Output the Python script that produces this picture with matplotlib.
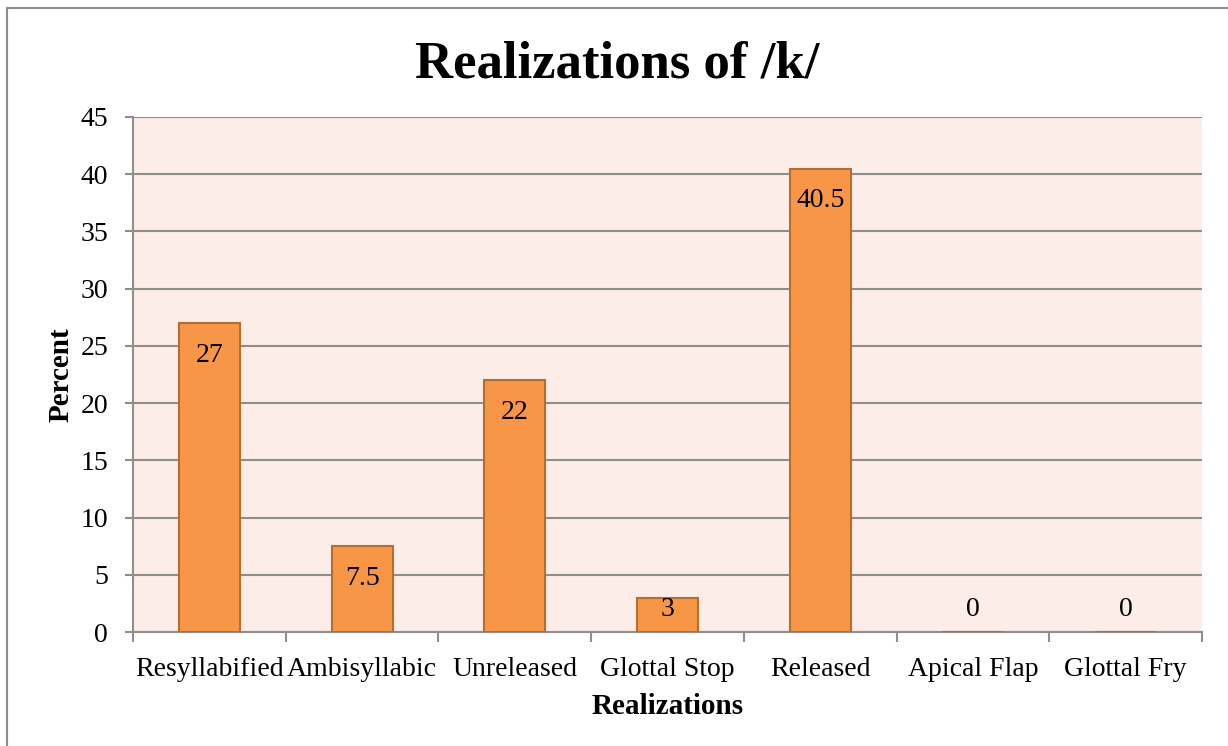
import numpy as np
import matplotlib.pyplot as plt
from matplotlib.patches import Rectangle

categories = ['Resyllabified', 'Ambisyllabic', 'Unreleased', 'Glottal Stop', 'Released', 'Apical Flap', 'Glottal Fry']
percent = [27, 7.5, 22, 3, 40.5, 0, 0]
value_labels = ['27', '7.5', '22', '3', '40.5', '0', '0']

plt.rcParams['font.family'] = ['Liberation Serif', 'DejaVu Serif']

fig = plt.figure(figsize=(12.28, 7.46), dpi=100)
ax = fig.add_axes([133/1228, 1 - 632/746, (1202-133)/1228, (632-117)/746])

# outer chart border
fig.patches.append(Rectangle((7/1228, -0.5), 2, 0.5 + 1 - 8/746, transform=fig.transFigure,
                             fill=False, edgecolor='#8c8c8c', linewidth=1.5))

grid_col = '#8e8e8e'
ax.set_facecolor('#fcede8')
x = np.arange(len(categories))
ax.bar(x, percent, width=0.4, color='#f79646', edgecolor='#b66d31', linewidth=1.5, zorder=3)

# data labels, inside end (or just above baseline for short bars)
for xi, v, lab in zip(x, percent, value_labels):
    ax.text(xi, max(v - 2.8, 2.0), lab, ha='center', va='center', fontsize=20, zorder=4)

ax.set_xlim(-0.5, len(categories) - 0.5)
ax.set_ylim(0, 45)
ax.set_yticks(np.arange(0, 46, 5))
ax.yaxis.grid(True, color=grid_col, linewidth=1.5, zorder=1)
ax.set_axisbelow(True)

ax.set_xticks(x)
ax.set_xticklabels(categories, fontsize=20)
ax.set_xticks(np.arange(-0.5, len(categories), 1), minor=True)
ax.tick_params(axis='x', which='major', length=0, pad=18)
ax.tick_params(axis='x', which='minor', length=7, width=1.5, color=grid_col, direction='out')
ax.tick_params(axis='y', length=6, width=1.5, color=grid_col, labelsize=20, pad=12)

for s in ['top', 'right']:
    ax.spines[s].set_visible(False)
for s in ['left', 'bottom']:
    ax.spines[s].set_color(grid_col)
    ax.spines[s].set_linewidth(1.5)

ax.set_xlabel('Realizations', fontsize=21, fontweight='bold', labelpad=8)
ax.set_ylabel('Percent', fontsize=21, fontweight='bold', labelpad=4)
fig.text(0.5025, 1 - 64/746, 'Realizations of /k/', ha='center', va='center', fontsize=38, fontweight='bold')

plt.savefig('out.png', dpi=100)
